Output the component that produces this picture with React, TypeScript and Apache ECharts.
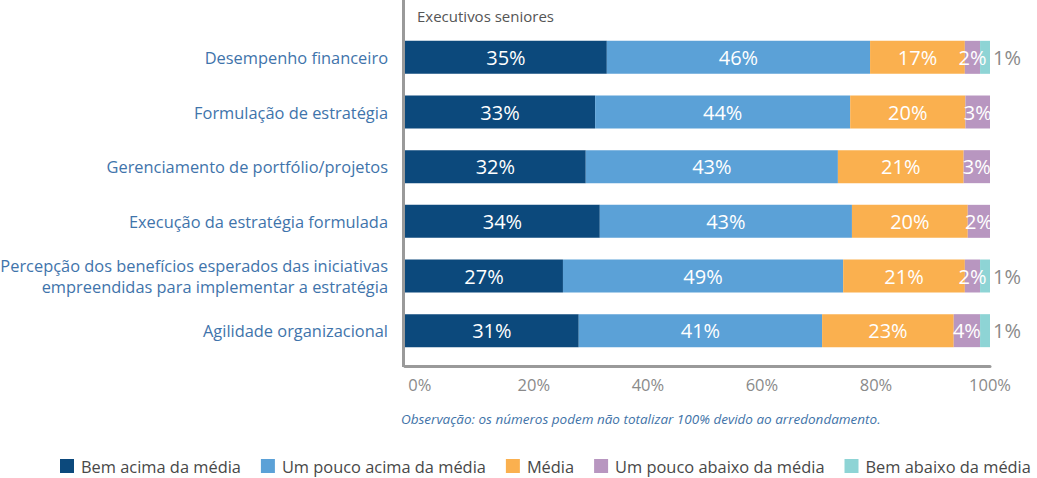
import React, { useEffect, useRef } from "react";
import * as echarts from "echarts";

const categories = [
  "Desempenho financeiro",
  "Formulação de estratégia",
  "Gerenciamento de portfólio/projetos",
  "Execução da estratégia formulada",
  "Percepção dos benefícios esperados das iniciativas\nempreendidas para implementar a estratégia",
  "Agilidade organizacional",
];

const seriesNames = [
  "Bem acima da média",
  "Um pouco acima da média",
  "Média",
  "Um pouco abaixo da média",
  "Bem abaixo da média",
];

// bar lengths (share of the 0–100% axis)
const bemAcima = [34.5, 32.5, 30.9, 33.3, 27.0, 29.7];
const poucoAcima = [45.0, 43.6, 43.1, 43.1, 47.9, 41.6];
const media = [16.2, 19.7, 21.5, 19.8, 20.8, 22.5];
const poucoAbaixo = [2.6, 4.2, 4.5, 3.8, 2.6, 4.5];
const bemAbaixo = [1.7, null, null, null, 1.7, 1.7];

// printed percentages
const bemAcimaLbl = [35, 33, 32, 34, 27, 31];
const poucoAcimaLbl = [46, 44, 43, 43, 49, 41];
const mediaLbl = [17, 20, 21, 20, 21, 23];
const poucoAbaixoLbl = [2, 3, 3, 2, 2, 4];
const bemAbaixoLbl = [1, null, null, null, 1, 1];

const tickValues = [0, 20, 40, 60, 80, 100];

const colors = ["#0c497c", "#5ba1d7", "#fab04f", "#b896c0", "#8ed4d5"];

const FONT = "Open Sans";

export default function App() {
  const ref = useRef<HTMLDivElement>(null);

  useEffect(() => {
    if (!ref.current) return;
    const chart = echarts.init(ref.current, null, { renderer: "svg" });

    const values = [bemAcima, poucoAcima, media, poucoAbaixo, bemAbaixo];
    const labels = [bemAcimaLbl, poucoAcimaLbl, mediaLbl, poucoAbaixoLbl, bemAbaixoLbl];

    const series = values.map((vals, si) => ({
      name: seriesNames[si],
      type: "bar",
      stack: "total",
      xAxisIndex: 0,
      barWidth: 33,
      itemStyle: { color: colors[si] },
      data: vals.map((v) => (v === null ? null : v)),
      label: {
        show: true,
        position: si === 4 ? "right" : "inside",
        distance: 3,
        color: si === 4 ? "#8a8a8a" : "#ffffff",
        fontFamily: FONT,
        fontSize: 20,
        formatter: (p: any) => {
          const l = labels[si][p.dataIndex];
          return l === null || l === undefined ? "" : l + "%";
        },
      },
    }));

    chart.setOption({
      animation: false,
      textStyle: { fontFamily: FONT },
      title: [
        {
          text: "Executivos seniores",
          left: 412,
          top: 3,
          textStyle: { color: "#555555", fontSize: 15, fontWeight: "normal", fontFamily: FONT },
        },
        {
          text: "Observação: os números podem não totalizar 100% devido ao arredondamento.",
          left: 396,
          top: 407,
          textStyle: {
            color: "#3f73a8",
            fontSize: 13.5,
            fontStyle: "italic",
            fontWeight: "normal",
            fontFamily: FONT,
          },
        },
      ],
      legend: {
        data: seriesNames,
        left: 60,
        top: 458,
        width: 1000,
        padding: 0,
        icon: "rect",
        itemWidth: 14,
        itemHeight: 14,
        itemGap: 20,
        textStyle: { color: "#484848", fontSize: 16.4, fontFamily: FONT, padding: [0, 0, 0, 2] },
      },
      grid: { left: 405, right: 47, top: 30, bottom: 120, outerBoundsMode: "none", containLabel: false },
      xAxis: [
        {
          type: "value",
          min: 0,
          max: 100,
          show: false,
        },
        {
          type: "value",
          gridIndex: 0,
          position: "bottom",
          offset: 8,
          min: -2.6,
          max: 100,
          axisLine: { show: true, lineStyle: { color: "#9a9a9a", width: 3 } },
          axisTick: { show: false },
          splitLine: { show: false },
          axisLabel: {
            customValues: tickValues,
            formatter: "{value}%",
            color: "#8a8a8a",
            fontSize: 16.5,
            fontFamily: FONT,
            margin: 10,
          },
        },
      ],
      yAxis: {
        type: "category",
        inverse: true,
        data: categories,
        axisLine: { show: false },
        axisTick: { show: false },
        axisLabel: {
          color: "#3f74ab",
          fontSize: 16.4,
          fontFamily: FONT,
          margin: 17,
          lineHeight: 21,
        },
      },
      graphic: [
        {
          type: "line",
          shape: { x1: 403.5, y1: 0, x2: 403.5, y2: 367 },
          style: { stroke: "#9a9a9a", lineWidth: 3 },
        },
      ],
      series,
    });

    return () => chart.dispose();
  }, []);

  return (
    <div
      ref={ref}
      style={{ position: "fixed", left: 0, top: 0, width: 1037, height: 478, background: "#fff" }}
    />
  );
}
